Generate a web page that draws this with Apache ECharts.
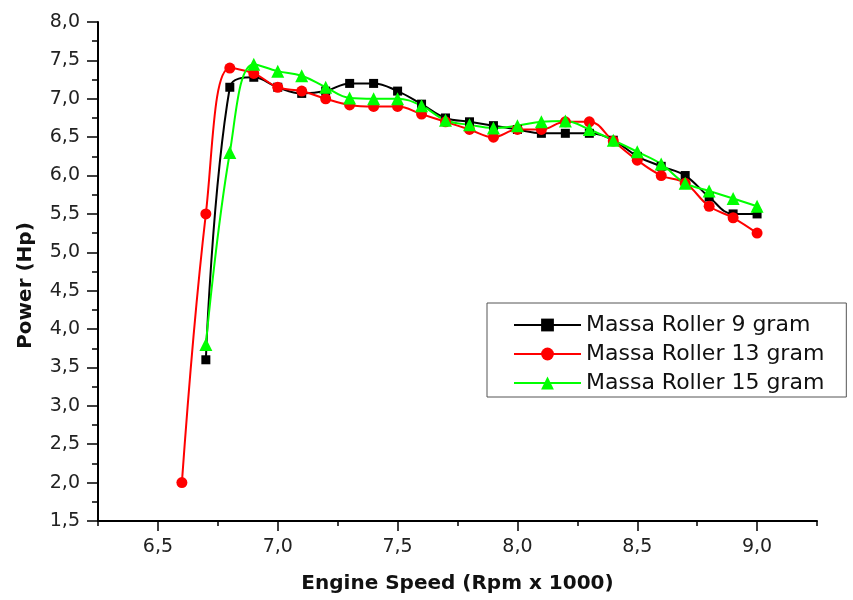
<!DOCTYPE html>
<html>
<head>
<meta charset="utf-8">
<script src="https://cdn.jsdelivr.net/npm/echarts@6/dist/echarts.min.js"></script>
<style>
  html, body { margin: 0; padding: 0; background: #fff; }
  #chart { width: 853px; height: 600px; }
</style>
</head>
<body>
<div id="chart"></div>
<script>
// Engine speed (x 1000 rpm) for each measurement
const speed9  = [6.7, 6.8, 6.9, 7.0, 7.1, 7.2, 7.3, 7.4, 7.5, 7.6, 7.7, 7.8, 7.9, 8.0, 8.1, 8.2, 8.3, 8.4, 8.5, 8.6, 8.7, 8.8, 8.9, 9.0];
const power9  = [3.6, 7.15, 7.28, 7.15, 7.07, 7.1, 7.2, 7.2, 7.1, 6.93, 6.75, 6.7, 6.65, 6.6, 6.55, 6.55, 6.55, 6.46, 6.25, 6.12, 6.0, 5.72, 5.5, 5.5];

const speed13 = [6.6, 6.7, 6.8, 6.9, 7.0, 7.1, 7.2, 7.3, 7.4, 7.5, 7.6, 7.7, 7.8, 7.9, 8.0, 8.1, 8.2, 8.3, 8.4, 8.5, 8.6, 8.7, 8.8, 8.9, 9.0];
const power13 = [2.0, 5.5, 7.4, 7.33, 7.15, 7.1, 7.0, 6.92, 6.9, 6.9, 6.8, 6.7, 6.6, 6.5, 6.6, 6.6, 6.7, 6.7, 6.45, 6.2, 6.0, 5.9, 5.6, 5.45, 5.25];

const speed15 = [6.7, 6.8, 6.9, 7.0, 7.1, 7.2, 7.3, 7.4, 7.5, 7.6, 7.7, 7.8, 7.9, 8.0, 8.1, 8.2, 8.3, 8.4, 8.5, 8.6, 8.7, 8.8, 8.9, 9.0];
const power15 = [3.8, 6.3, 7.45, 7.36, 7.3, 7.15, 7.01, 7.0, 7.0, 6.91, 6.72, 6.66, 6.62, 6.65, 6.7, 6.71, 6.6, 6.46, 6.31, 6.15, 5.9, 5.8, 5.7, 5.6];

const seriesNames = ['Massa Roller 9 gram', 'Massa Roller 13 gram', 'Massa Roller 15 gram'];

// Axis ticks
const xMinorTicks = [6.25, 6.5, 6.75, 7.0, 7.25, 7.5, 7.75, 8.0, 8.25, 8.5, 8.75, 9.0, 9.25];
const xMajorTicks = [6.5, 7.0, 7.5, 8.0, 8.5, 9.0];

const FONT = '"DejaVu Sans", "Liberation Sans", sans-serif';
const comma = v => Number(v).toFixed(1).replace('.', ',');
const pairs = (xs, ys) => xs.map((x, i) => [x, ys[i]]);

const chart = echarts.init(document.getElementById('chart'), null, { renderer: 'canvas' });

const axisLine = { show: true, lineStyle: { color: '#000', width: 2 } };

chart.setOption({
  backgroundColor: '#fff',
  animation: false,
  grid: { left: 98, right: 36, top: 22, bottom: 79 },
  xAxis: [
    {
      type: 'value', min: 6.25, max: 9.25, interval: 0.25,
      axisLine: axisLine,
      axisTick: { show: true, length: 5, customValues: xMinorTicks, lineStyle: { color: '#000', width: 1.5 } },
      axisLabel: { show: false },
      splitLine: { show: false },
      name: 'Engine Speed (Rpm x 1000)',
      nameLocation: 'middle', nameGap: 53,
      nameTextStyle: { fontFamily: FONT, fontSize: 20, fontWeight: 'bold', color: '#111' }
    },
    {
      type: 'value', min: 6.25, max: 9.25, position: 'bottom',
      axisLine: { show: false },
      axisTick: { show: true, length: 10, customValues: xMajorTicks, lineStyle: { color: '#000', width: 1.5 } },
      axisLabel: { show: true, customValues: xMajorTicks, formatter: comma, margin: 17,
                   fontFamily: FONT, fontSize: 19, color: '#222' },
      splitLine: { show: false }
    }
  ],
  yAxis: {
    type: 'value', min: 1.5, max: 8, interval: 0.5,
    axisLine: axisLine,
    axisTick: { show: true, length: 11, lineStyle: { color: '#000', width: 1.5 } },
    minorTick: { show: true, splitNumber: 2, length: 6, lineStyle: { color: '#000', width: 1.5 } },
    axisLabel: { formatter: comma, margin: 18, fontFamily: FONT, fontSize: 19, color: '#222' },
    splitLine: { show: false },
    minorSplitLine: { show: false },
    name: 'Power (Hp)',
    nameLocation: 'middle', nameGap: 62,
    nameTextStyle: { fontFamily: FONT, fontSize: 20, fontWeight: 'bold', color: '#111', padding: [0, 28, 0, 0] }
  },
  legend: {
    orient: 'vertical',
    left: 487, top: 303,
    padding: [11, 22, 3, 26],
    itemWidth: 67, itemHeight: 16, itemGap: 7,
    borderColor: '#555', borderWidth: 1, borderRadius: 0,
    backgroundColor: '#fff',
    textStyle: { fontFamily: FONT, fontSize: 22, color: '#111' },
    data: seriesNames
  },
  series: [
    {
      name: seriesNames[0], type: 'line', smooth: 0.4,
      data: pairs(speed9, power9),
      symbol: 'rect', symbolSize: 9,
      lineStyle: { color: '#000', width: 2 },
      itemStyle: { color: '#000' }
    },
    {
      name: seriesNames[1], type: 'line', smooth: 0.4,
      data: pairs(speed13, power13),
      symbol: 'circle', symbolSize: 11,
      lineStyle: { color: '#ff0000', width: 2 },
      itemStyle: { color: '#ff0000' }
    },
    {
      name: seriesNames[2], type: 'line', smooth: 0.4,
      data: pairs(speed15, power15),
      symbol: 'triangle', symbolSize: 13,
      lineStyle: { color: '#00ff00', width: 2 },
      itemStyle: { color: '#00ff00' }
    }
  ]
});
</script>
</body>
</html>
